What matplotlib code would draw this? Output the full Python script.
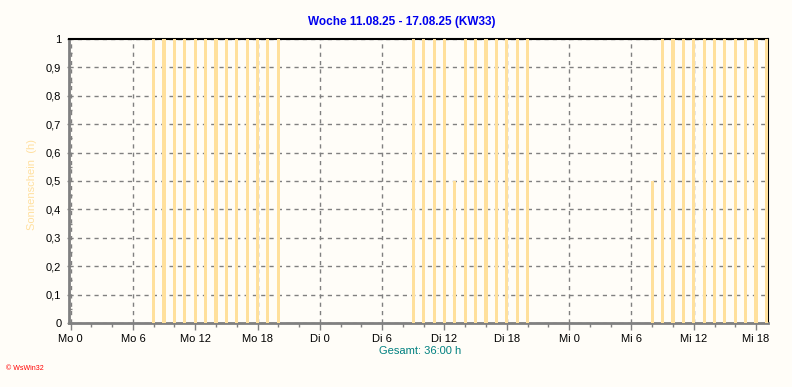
import numpy as np
import matplotlib.pyplot as plt
from matplotlib.ticker import MultipleLocator, FuncFormatter

# Sonnenschein je Stunde (h), Mo 0 .. Mi 19
mon = [0] * 8 + [1] * 13 + [0] * 3
tue = [0] * 9 + [1] * 4 + [0.5] + [1] * 7 + [0] * 3
wed = [0] * 8 + [0.5] + [1] * 11
sun = np.array(mon + tue + wed, dtype=float)
hours = np.arange(len(sun))

tick_pos = list(range(0, 67, 6))
tick_labels = ["Mo 0", "Mo 6", "Mo 12", "Mo 18",
               "Di 0", "Di 6", "Di 12", "Di 18",
               "Mi 0", "Mi 6", "Mi 12", "Mi 18"]
y_ticks = [i / 10 for i in range(11)]

plt.rcParams["font.family"] = ["Liberation Sans", "DejaVu Sans"]
bg = "#fffdf8"
fig = plt.figure(figsize=(7.92, 3.87), dpi=100, facecolor=bg)
ax = fig.add_axes([69 / 792, 1 - 323 / 387, 699 / 792, 284 / 387], facecolor=bg)

ax.bar(hours, sun, width=0.3, color="#ffe09c", zorder=3, antialiased=False)

ax.set_xlim(-0.15, 67.15)
ax.set_ylim(0, 1)
ax.set_xticks(tick_pos)
ax.set_xticklabels(tick_labels)
ax.xaxis.set_minor_locator(MultipleLocator(2))
ax.set_yticks(y_ticks)
ax.yaxis.set_minor_locator(MultipleLocator(0.05))
ax.yaxis.set_major_formatter(FuncFormatter(
    lambda v, p: "%d" % round(v) if abs(v - round(v)) < 1e-9 else ("%.1f" % v).replace(".", ",")))

ax.grid(True, which="major", linestyle=(0, (3, 3)), color="#808080", linewidth=1, zorder=1)
ax.tick_params(axis="both", which="major", labelsize=8, colors="#808080", labelcolor="black")
ax.tick_params(axis="x", which="major", length=5, width=1, direction="out", pad=3)
ax.tick_params(axis="x", which="minor", length=3, width=1, direction="out", color="#808080")
ax.tick_params(axis="y", which="major", length=3, width=1, direction="inout", pad=4)
ax.tick_params(axis="y", which="minor", length=2, width=1, direction="in", color="#808080")

ax.spines["left"].set_color("#808080")
ax.spines["left"].set_linewidth(2)
ax.spines["bottom"].set_color("#808080")
ax.spines["bottom"].set_linewidth(2)
ax.spines["top"].set_color("black")
ax.spines["top"].set_linewidth(1.5)
ax.spines["right"].set_color("black")
ax.spines["right"].set_linewidth(1.5)

fig.text(402 / 792, 1 - 22 / 387, "Woche 11.08.25 - 17.08.25 (KW33)", ha="center", va="center",
         fontsize=8.5, fontweight="bold", color="#0000ee")
fig.text(32 / 792, 1 - 185 / 387, "Sonnenschein  (h)", ha="center", va="center",
         rotation=90, fontsize=8, color="#ffe0a0")
fig.text(420 / 792, 1 - 351 / 387, "Gesamt: 36:00 h", ha="center", va="center",
         fontsize=8, color="#008080")
fig.text(6 / 792, 1 - 368 / 387, "© WsWin32", ha="left", va="center",
         fontsize=5, color="red")

fig.savefig("out.png", dpi=100, facecolor=bg)
